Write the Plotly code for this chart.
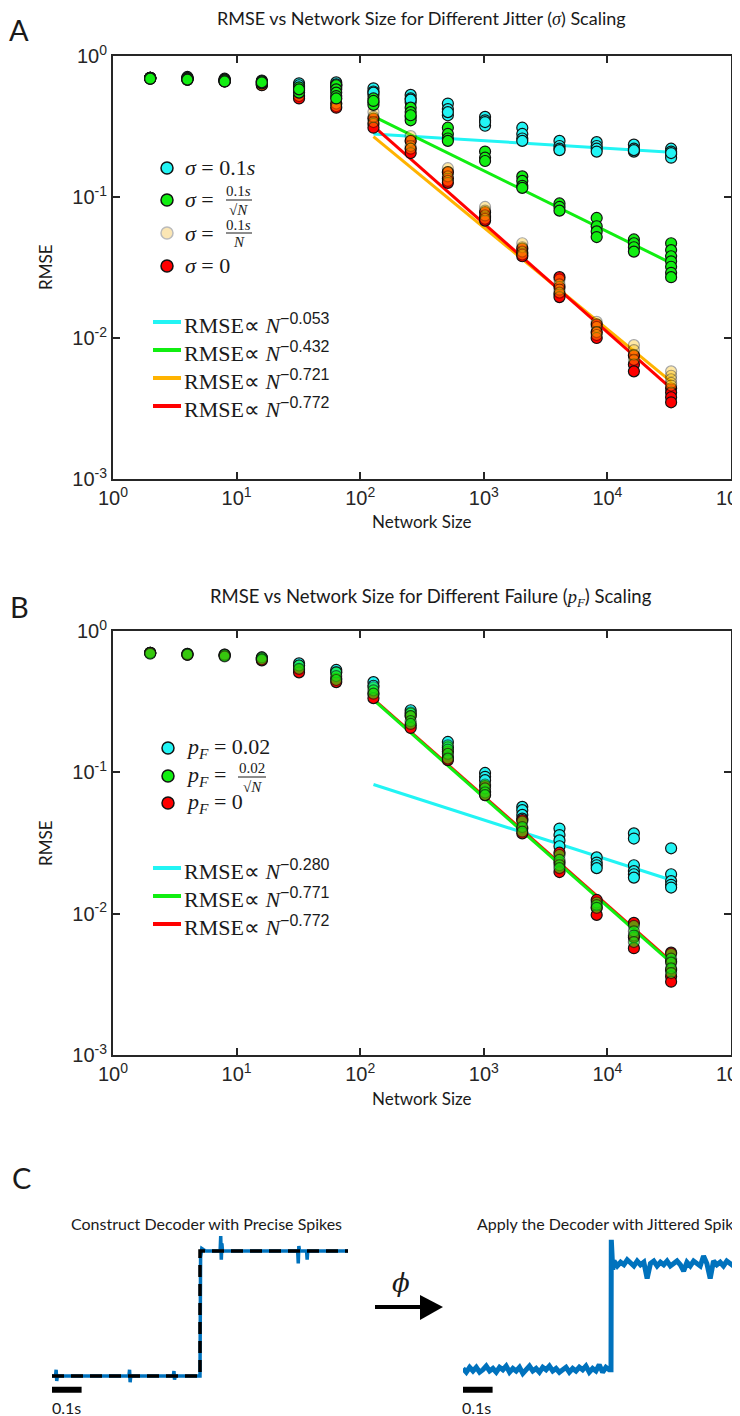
import numpy as np
import plotly.graph_objects as go

W, H = 740, 1416
OFF = 8  # the page body margin pushes the figure 8px right and down


def px(x):
    return (x - OFF) / W


def py(y):
    return 1 - (y - OFF) / H


network_sizes = [2, 4, 8, 16, 32, 64, 128, 256, 512, 1024, 2048, 4096, 8192, 16384, 32768]
x_tick_vals = [1, 10, 100, 1000, 10000, 100000]
x_tick_text = ['10<sup>0</sup>', '10<sup>1</sup>', '10<sup>2</sup>', '10<sup>3</sup>', '10<sup>4</sup>', '10<sup>5</sup>']
y_tick_vals = [0.001, 0.01, 0.1, 1]
y_tick_text = ['10<sup>-3</sup>', '10<sup>-2</sup>', '10<sup>-1</sup>', '10<sup>0</sup>']

# Panel A: RMSE trials for each jitter scaling (one list per network size)
jitter_const = [
    [0.70, 0.69, 0.70, 0.70], [0.70, 0.68, 0.69, 0.71], [0.69, 0.67, 0.68, 0.66],
    [0.67, 0.65, 0.66, 0.63], [0.64, 0.61, 0.59, 0.62], [0.65, 0.62, 0.60, 0.63],
    [0.59, 0.56, 0.53, 0.55], [0.53, 0.50, 0.47, 0.49], [0.46, 0.42, 0.38, 0.40],
    [0.37, 0.35, 0.32, 0.34], [0.31, 0.28, 0.26, 0.25], [0.25, 0.23, 0.22, 0.215],
    [0.245, 0.23, 0.22, 0.21], [0.235, 0.22, 0.21, 0.215], [0.22, 0.21, 0.20, 0.19, 0.205],
]
jitter_sqrt = [
    [0.70, 0.70, 0.69], [0.70, 0.69, 0.68], [0.68, 0.67, 0.66],
    [0.66, 0.64, 0.65], [0.60, 0.57, 0.55, 0.58], [0.62, 0.58, 0.55, 0.52, 0.50],
    [0.50, 0.47, 0.45, 0.48], [0.43, 0.40, 0.37, 0.35, 0.38], [0.31, 0.28, 0.26, 0.25],
    [0.21, 0.19, 0.18], [0.14, 0.13, 0.12, 0.116], [0.09, 0.085, 0.08],
    [0.071, 0.062, 0.057, 0.052], [0.05, 0.047, 0.044, 0.041],
    [0.047, 0.042, 0.038, 0.035, 0.032, 0.029, 0.027],
]
jitter_lin = [
    [0.70, 0.69], [0.69, 0.68], [0.67, 0.66], [0.64, 0.62], [0.55, 0.52],
    [0.50, 0.46, 0.44], [0.40, 0.37, 0.34], [0.27, 0.25, 0.23, 0.22],
    [0.16, 0.15, 0.14, 0.13], [0.085, 0.08, 0.074, 0.07], [0.047, 0.044, 0.041, 0.039],
    [0.026, 0.024, 0.022, 0.021], [0.013, 0.012, 0.011, 0.0105],
    [0.0089, 0.0082, 0.0076, 0.0070], [0.0058, 0.0054, 0.0051, 0.0048, 0.0046],
]
jitter_zero = [
    [0.70, 0.69], [0.69, 0.68], [0.67, 0.66], [0.63, 0.62], [0.52, 0.50],
    [0.46, 0.43], [0.36, 0.33, 0.31], [0.25, 0.22, 0.205], [0.15, 0.135, 0.126],
    [0.078, 0.072, 0.068], [0.043, 0.04, 0.038], [0.027, 0.023, 0.0205, 0.0195],
    [0.0125, 0.011, 0.010], [0.0075, 0.0065, 0.0058], [0.0044, 0.0041, 0.0038, 0.0035],
]

# Panel B: RMSE trials for each failure scaling
fail_const = [
    [0.70, 0.70], [0.69, 0.68], [0.68, 0.67], [0.65, 0.64], [0.59, 0.57],
    [0.53, 0.51], [0.435, 0.41], [0.275, 0.26], [0.164, 0.15],
    [0.099, 0.093, 0.088], [0.057, 0.054, 0.05, 0.047], [0.040, 0.036, 0.033, 0.030],
    [0.025, 0.023, 0.022, 0.021], [0.037, 0.034, 0.022, 0.020, 0.019, 0.018],
    [0.029, 0.019, 0.017, 0.016, 0.0153],
]
fail_sqrt = [
    [0.70, 0.69], [0.69, 0.68], [0.68, 0.66], [0.65, 0.63], [0.57, 0.54],
    [0.51, 0.48, 0.45], [0.40, 0.38, 0.36], [0.265, 0.25, 0.23, 0.22],
    [0.155, 0.145, 0.135, 0.125], [0.082, 0.077, 0.072, 0.069], [0.045, 0.041, 0.038],
    [0.026, 0.024, 0.022, 0.021], [0.012, 0.0115, 0.011], [0.0082, 0.0075, 0.007, 0.0063],
    [0.0052, 0.0048, 0.0045, 0.0041, 0.0038],
]
fail_zero = [
    [0.70], [0.68], [0.67], [0.63, 0.62], [0.53, 0.51], [0.46, 0.435], [0.36, 0.335],
    [0.25, 0.215, 0.206], [0.14, 0.128, 0.122], [0.08, 0.073, 0.069], [0.046, 0.04, 0.037],
    [0.027, 0.023, 0.0197], [0.0125, 0.011, 0.0098], [0.0086, 0.0068, 0.0057],
    [0.0053, 0.0046, 0.004, 0.0036, 0.0033],
]

# power-law fit lines (value at first and last fitted size)
fit_sizes = [128, 32768]
fit_a = {'-0.053': [0.28, 0.208], '-0.432': [0.373, 0.034], '-0.721': [0.268, 0.0049], '-0.772': [0.318, 0.0044]}
fit_b = {'-0.280': [0.082, 0.0173], '-0.771': [0.33, 0.0046], '-0.772': [0.325, 0.0045]}

# Panel C: decoded signals (time in s)
target_t = [0.0, 0.5, 0.5, 1.0]
target_v = [0.0, 0.0, 1.0, 1.0]
precise_t = [0.0, 0.012, 0.014, 0.016, 0.018, 0.26, 0.262, 0.264, 0.266, 0.41, 0.412, 0.414, 0.416,
             0.497, 0.5, 0.502, 0.506, 0.512, 0.52, 0.568, 0.57, 0.572, 0.574, 0.576,
             0.83, 0.832, 0.834, 0.836, 0.86, 0.862, 0.864, 1.0]
precise_v = [0.0, 0.0, 0.05, -0.04, 0.0, 0.0, 0.05, -0.05, 0.0, 0.0, 0.04, -0.03, 0.0,
             0.0, 0.0, 0.95, 1.02, 1.01, 1.0, 1.0, 1.12, 0.93, 1.06, 1.0,
             1.0, 0.9, 1.04, 1.0, 1.0, 0.93, 1.0, 1.0]
jitter_low = [0.06, 0.03, 0.07, 0.04, 0.07, 0.03, 0.05, 0.08, 0.04, 0.06, 0.03, 0.07, 0.05, 0.08, 0.03,
              0.06, 0.04, 0.07, 0.02, 0.05, 0.08, 0.04, 0.06, 0.03, 0.07, 0.05, 0.08, 0.04, 0.06, 0.03,
              0.05, 0.07, 0.03, 0.06, 0.04, 0.07, 0.05, 0.08, 0.03, 0.06, 0.04, 0.09, 0.03, 0.07, 0.05]
jitter_step = [0.05, 1.09, 0.85]
jitter_high = [0.92, 0.88, 0.91, 0.89, 0.93, 0.90, 0.88, 0.92, 0.89, 0.91, 0.78, 0.90, 0.92, 0.88,
               0.91, 0.89, 0.92, 0.88, 0.90, 0.92, 0.89, 0.84, 0.91, 0.88, 0.92, 0.90, 0.88, 0.96,
               0.90, 0.78, 0.92, 0.89, 0.91, 0.88, 0.92, 0.90, 0.88, 0.91, 0.89]

CYAN = '#22F4F4'
GREEN = '#11EE11'
RED = '#FF0000'
GOLD = '#FFB300'
AX = '#262626'
SANS = 'Lato'
TICK = 'Liberation Sans'
SERIF = 'Liberation Serif'


def flatten(trials):
    xs, ys = [], []
    for n, vals in zip(network_sizes, trials):
        xs += [n] * len(vals)
        ys += vals
    return xs, ys


def log_axis(domain, rng, vals, labels, anchor):
    return dict(type='log', domain=domain, range=rng, tickvals=vals, ticktext=labels, anchor=anchor,
                ticks='inside', ticklen=7, tickwidth=1.5, tickcolor=AX, showline=True, linecolor=AX,
                linewidth=2, mirror='ticks', showgrid=False, zeroline=False, automargin=False,
                tickfont=dict(family=TICK, size=20, color=AX))


def hidden_axis(domain, rng, anchor):
    return dict(domain=domain, range=rng, visible=False, anchor=anchor, automargin=False)


fig = go.Figure()

# --- panel A
for (label, vals), col in zip(fit_a.items(), [CYAN, GREEN, GOLD, RED]):
    fig.add_trace(go.Scatter(x=fit_sizes, y=vals, mode='lines', line=dict(color=col, width=3),
                             xaxis='x', yaxis='y'))
for trials, col, op, edge in [(jitter_const, CYAN, 1, '#111'), (jitter_zero, RED, 1, '#111'),
                              (jitter_lin, '#FFC000', 0.35, '#000'), (jitter_sqrt, GREEN, 1, '#111')]:
    xs, ys = flatten(trials)
    fig.add_trace(go.Scatter(x=xs, y=ys, mode='markers', xaxis='x', yaxis='y',
                             marker=dict(size=11, color=col, opacity=op, line=dict(color=edge, width=1.2))))

# --- panel B
for (label, vals), col in zip(fit_b.items(), [CYAN, RED, GREEN]):
    fig.add_trace(go.Scatter(x=fit_sizes, y=vals, mode='lines', line=dict(color=col, width=3),
                             xaxis='x2', yaxis='y2'))
for trials, col, op in [(fail_const, CYAN, 1), (fail_zero, RED, 1), (fail_sqrt, GREEN, 0.6)]:
    xs, ys = flatten(trials)
    fig.add_trace(go.Scatter(x=xs, y=ys, mode='markers', xaxis='x2', yaxis='y2',
                             marker=dict(size=11, color=col, opacity=op, line=dict(color='#111', width=1.2))))

# --- panel C
fig.add_trace(go.Scatter(x=precise_t, y=precise_v, mode='lines', line=dict(color='#0072BD', width=3.5),
                         xaxis='x3', yaxis='y3'))
fig.add_trace(go.Scatter(x=target_t, y=target_v, mode='lines',
                         line=dict(color='black', width=3.5, dash='12px,7px'), xaxis='x3', yaxis='y3'))
jt = list(np.linspace(0, 0.494, len(jitter_low))) + [0.5, 0.501, 0.506] + \
    list(np.linspace(0.51, 0.936, len(jitter_high)))
jv = jitter_low + jitter_step + jitter_high
fig.add_trace(go.Scatter(x=jt, y=jv, mode='lines', line=dict(color='#0072BD', width=5),
                         xaxis='x4', yaxis='y4'))
for xa, ya in [('x3', 'y3'), ('x4', 'y4')]:
    fig.add_trace(go.Scatter(x=[0, 0.1], y=[-0.11, -0.11], mode='lines', line=dict(color='black', width=6),
                             xaxis=xa, yaxis=ya))

annotations = []
shapes = []


def text(x, y, s, size, family=SANS, anchor='center', color='#1a1a1a', **kw):
    annotations.append(dict(x=px(x), y=py(y), xref='paper', yref='paper', text=s, showarrow=False,
                            xanchor=anchor, yanchor='middle', font=dict(family=family, size=size, color=color), **kw))


def dot(cx, cy, fill, edge='#111', op=1):
    shapes.append(dict(type='circle', xref='paper', yref='paper', x0=px(cx - 6), x1=px(cx + 6),
                       y0=py(cy + 6), y1=py(cy - 6), fillcolor=fill, opacity=op, line=dict(color=edge, width=1.5)))


def hline(x0, x1, y, col, width):
    shapes.append(dict(type='line', xref='paper', yref='paper', x0=px(x0), x1=px(x1), y0=py(y), y1=py(y),
                       line=dict(color=col, width=width)))


# panel letters and titles
text(19, 30, 'A', 29)
text(19, 607, 'B', 29)
text(21, 1177, 'C', 29)
text(422, 18, 'RMSE vs Network Size for Different Jitter (<span style="font-family:Liberation Serif"><i>σ</i></span>) Scaling', 18)
text(431, 597, 'RMSE vs Network Size for Different Failure (<span style="font-family:Liberation Serif"><i>p<sub>F</sub></i></span>) Scaling', 18.5)
for yc in [521, 1098]:
    text(422, yc, 'Network Size', 17)
for yc in [267, 843]:
    text(45, yc, 'RMSE', 17, textangle=-90)

# legend A
sig = '<i>σ</i> ='
dot(167, 168, CYAN)
text(183, 168, sig + ' 0.1<i>s</i>', 22, SERIF, 'left')
dot(167, 200, GREEN)
text(183, 200, sig, 22, SERIF, 'left')
text(239, 191, '0.1<i>s</i>', 15, SERIF)
text(239, 210, '√<i>N</i>', 15, SERIF)
hline(226, 252, 200, '#1a1a1a', 1)
dot(167, 233, '#FBE6B4', '#BBBBBB')
text(183, 233, sig, 22, SERIF, 'left')
text(239, 225, '0.1<i>s</i>', 15, SERIF)
text(239, 242, '<i>N</i>', 15, SERIF)
hline(226, 252, 233, '#1a1a1a', 1)
dot(167, 266, RED)
text(183, 266, sig + ' 0', 22, SERIF, 'left')


def fit_label(exp):
    return ('RMSE∝ <i>N</i><sup><span style="font-family:Liberation Sans;font-size:16px">−'
            + exp[1:] + '</span></sup>')


for (label, vals), col, yc in zip(fit_a.items(), [CYAN, GREEN, GOLD, RED], [322, 350, 378, 406]):
    hline(153, 181, yc, col, 4)
    text(182, yc + 2, fit_label(label), 22, SERIF, 'left')

# legend B
pf = '<i>p<sub>F</sub></i> ='
dot(168, 748, CYAN)
text(184, 748, pf + ' 0.02', 22, SERIF, 'left')
dot(168, 776, GREEN)
text(184, 776, pf, 22, SERIF, 'left')
text(252, 768, '0.02', 15, SERIF)
text(252, 787, '√<i>N</i>', 15, SERIF)
hline(238, 266, 777, '#1a1a1a', 1)
dot(168, 803, RED)
text(184, 803, pf + ' 0', 22, SERIF, 'left')
for (label, vals), col, yc in zip(fit_b.items(), [CYAN, GREEN, RED], [868, 896, 924]):
    hline(153, 181, yc, col, 4)
    text(182, yc + 2, fit_label(label), 22, SERIF, 'left')

# panel C labels
text(206, 1223, 'Construct Decoder with Precise Spikes', 16)
text(612, 1223, 'Apply the Decoder with Jittered Spikes', 16)
text(66, 1407, '0.1s', 16)
text(476, 1407, '0.1s', 16)
text(401, 1283, '<i>ϕ</i>', 26, 'DejaVu Serif')
hline(375, 424, 1307, 'black', 4)
shapes.append(dict(type='path', xref='paper', yref='paper', fillcolor='black', line=dict(width=0),
                   path=f'M {px(420)},{py(1295)} L {px(443)},{py(1307)} L {px(420)},{py(1320)} Z'))

fig.update_layout(
    width=W, height=H, margin=dict(l=0, r=0, t=0, b=0, autoexpand=False),
    paper_bgcolor='white', plot_bgcolor='white', showlegend=False,
    xaxis=log_axis([px(113), px(731)], [0, 5], x_tick_vals, x_tick_text, 'y'),
    yaxis=log_axis([py(479), py(56)], [-3, 0], y_tick_vals, y_tick_text, 'x'),
    xaxis2=log_axis([px(113), px(731)], [0, 5], x_tick_vals, x_tick_text, 'y2'),
    yaxis2=log_axis([py(1055), py(631)], [-3, 0], y_tick_vals, y_tick_text, 'x2'),
    xaxis3=hidden_axis([px(52), px(348)], [0, 1.0], 'y3'),
    yaxis3=hidden_axis([py(1416), py(1236)], [-0.32, 1.12], 'x3'),
    xaxis4=hidden_axis([px(463), 1.0], [0, (W + OFF - 463) / 296], 'y4'),
    yaxis4=hidden_axis([py(1416), py(1236)], [-0.32, 1.12], 'x4'),
    annotations=annotations, shapes=shapes,
)

fig.write_html('out.html')
